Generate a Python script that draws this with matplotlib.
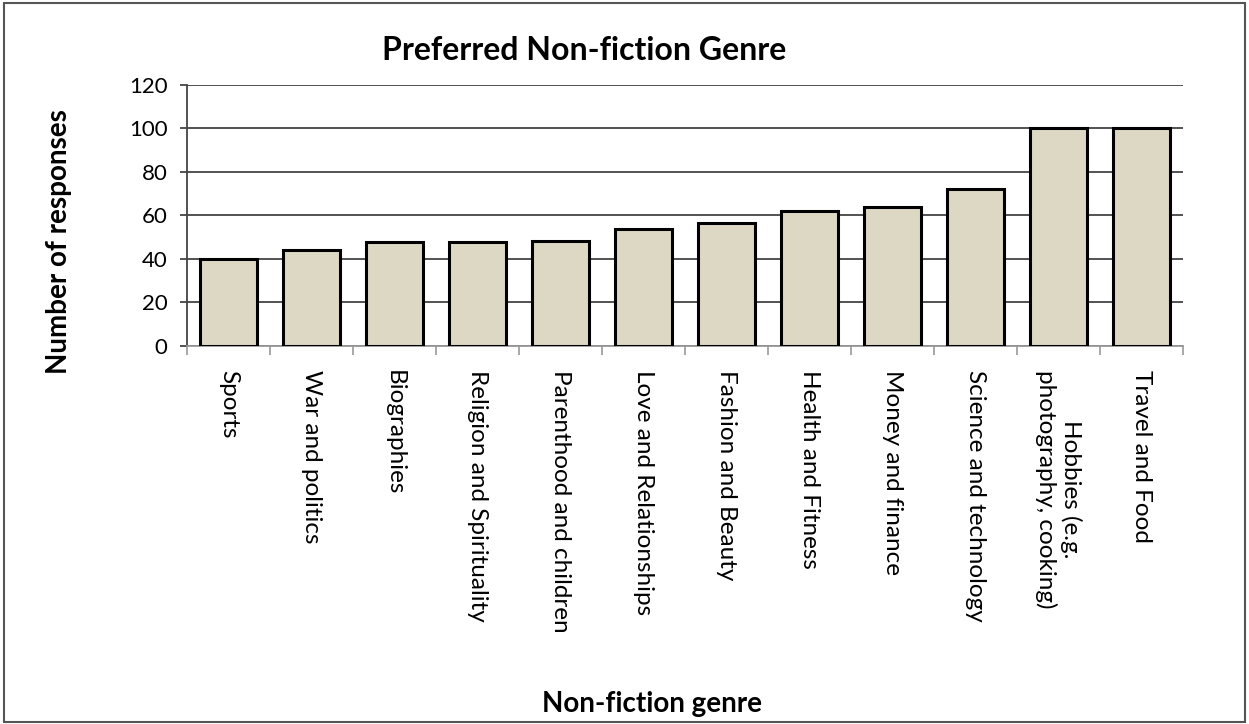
import numpy as np
import matplotlib
matplotlib.use("Agg")
import matplotlib.pyplot as plt
from matplotlib.patches import Rectangle

plt.rcParams['font.family'] = ['Lato', 'DejaVu Sans']

genres = ["Sports", "War and politics", "Biographies", "Religion and Spirituality",
          "Parenthood and children", "Love and Relationships", "Fashion and Beauty",
          "Health and Fitness", "Money and finance", "Science and technology",
          "Hobbies (e.g.\nphotography, cooking)", "Travel and Food"]
responses = [40, 44, 48, 48, 48.5, 54, 56.5, 62, 64, 72, 100, 100]
yticks = [0, 20, 40, 60, 80, 100, 120]

fig = plt.figure(figsize=(12.49, 7.24), dpi=100)
ax = fig.add_axes([0.1497, 0.5221, 0.7974, 0.3605])

x = np.arange(len(genres))
ax.bar(x, responses, width=0.68, color="#ddd8c3", edgecolor="black", linewidth=2.2, zorder=3)

ax.set_xlim(-0.5, len(genres) - 0.5)
ax.set_ylim(0, 120)
ax.set_yticks(yticks)
ax.yaxis.grid(True, color="#444444", linewidth=1.3, zorder=0)

ax.set_xticks(x)
ax.set_xticklabels(genres, rotation=-90, ha="center", va="top", multialignment="center",
                   fontsize=17.5)
ax.set_xticks(np.arange(-0.5, len(genres)), minor=True)
ax.tick_params(axis="x", which="major", length=0, pad=17)
ax.tick_params(axis="x", which="minor", length=6.5, color="#999999", width=1.2)
ax.tick_params(axis="y", length=5, width=1.3, color="#444444", labelsize=16, pad=9)

for s in ["top", "right"]:
    ax.spines[s].set_visible(False)
ax.spines["left"].set_color("#444444")
ax.spines["left"].set_linewidth(1.3)
ax.spines["bottom"].set_color("#999999")
ax.spines["bottom"].set_linewidth(1.3)

fig.text(0.468, 0.93, "Preferred Non-fiction Genre", fontsize=23, fontweight="bold",
         ha="center", va="center")
fig.text(0.047, 0.667, "Number of responses", fontsize=20, fontweight="bold",
         rotation=90, ha="center", va="center")
fig.text(0.522, 0.028, "Non-fiction genre", fontsize=20, fontweight="bold",
         ha="center", va="center")

fig.patches.append(Rectangle((0.0035, 0.003), 0.9935, 0.993, transform=fig.transFigure,
                             fill=False, edgecolor="#555555", linewidth=1.5))

fig.savefig("out.png", dpi=100)
